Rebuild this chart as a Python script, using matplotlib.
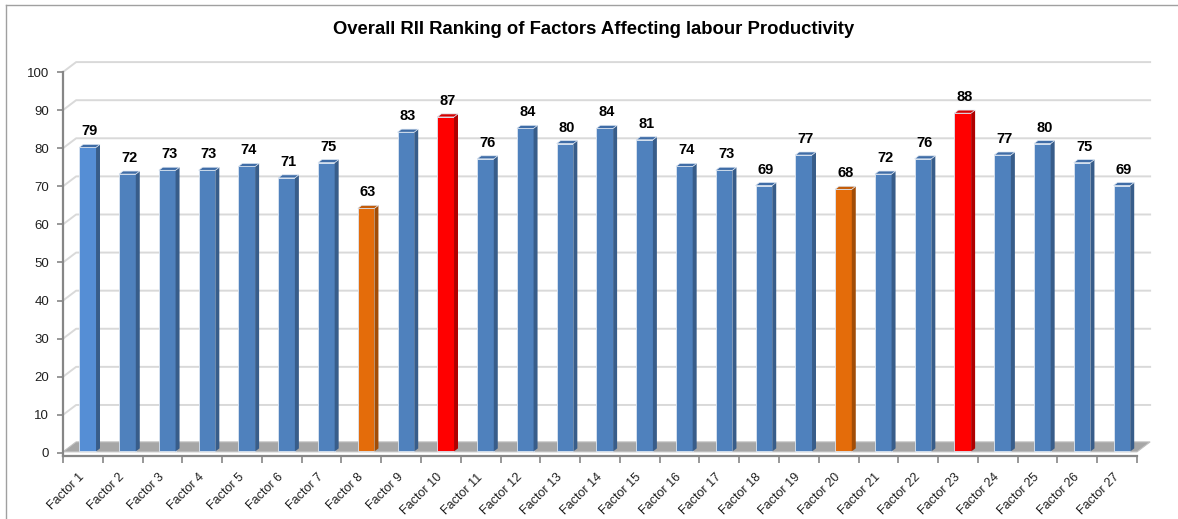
import numpy as np
import matplotlib
matplotlib.use('Agg')
import matplotlib.pyplot as plt
from matplotlib.patches import Polygon
from matplotlib.lines import Line2D

# chart data
factors = ['Factor %d' % i for i in range(1, 28)]
rii = [79, 72, 73, 73, 74, 71, 75, 63, 83, 87, 76, 84, 80, 84, 81,
       74, 73, 69, 77, 68, 72, 76, 88, 77, 80, 75, 69]
title = 'Overall RII Ranking of Factors Affecting labour Productivity'

# colour per bar: (front, side, top)
blue = ('#4F81BD', '#385D8A', '#3F6CA6')
blue_first = ('#558ED5', '#385D8A', '#3F6CA6')
orange = ('#E46C0A', '#A24D07', '#C45C08')
red = ('#FF0000', '#B00000', '#D40000')
colours = [blue] * 27
colours[0] = blue_first
colours[7] = orange
colours[19] = orange
colours[9] = red
colours[22] = red

matplotlib.rcParams['font.family'] = ['Liberation Sans', 'DejaVu Sans']

fig = plt.figure(figsize=(11.78, 5.19), dpi=100)
ax = fig.add_axes([63 / 1178, 63 / 519, 1074 / 1178, 384 / 519])
n = len(rii)
ax.set_xlim(-0.5, n - 0.5)
ax.set_ylim(-0.8, 100)

# fake 3d geometry (data units)
wdx, wdy = 0.33, 2.6     # back wall offset
bw = 0.42                # bar width
ox, oy = 0.12, 0.4       # bar front offset
lift = 1.2               # bars sit a little back in depth, tops look higher
sdx, sdy = 0.10, 0.8     # bar side depth
x = np.arange(n)

# back wall gridlines + side wall diagonals
for g in range(10, 101, 10):
    ax.plot([-0.5, -0.5 + wdx, n - 0.5 + wdx], [g, g + wdy, g + wdy],
            color='#D9D9D9', lw=1.4, zorder=1, clip_on=False)

# floor
floor = Polygon([(-0.5, 0.3), (n - 0.5, 0.3), (n - 0.5 + wdx, 0.3 + wdy),
                 (-0.5 + wdx, 0.3 + wdy)], closed=True, facecolor='#A6A6A6',
                edgecolor='#BFBFBF', lw=0.8, zorder=2, clip_on=False)
ax.add_patch(floor)

# bars
for i, v in enumerate(rii):
    front, side, top = colours[i]
    x0 = i + ox - bw / 2
    h = v + lift
    ax.bar(x0, h - oy, bottom=oy, width=bw, align='edge', color=front,
           edgecolor='#DCE6F2', linewidth=0.6, zorder=3)
    ax.add_patch(Polygon([(x0 + bw, oy), (x0 + bw + sdx, oy + sdy),
                          (x0 + bw + sdx, h + sdy), (x0 + bw, h)],
                         closed=True, facecolor=side, edgecolor='none', zorder=3))
    ax.add_patch(Polygon([(x0, h), (x0 + bw, h), (x0 + bw + sdx, h + sdy),
                          (x0 + sdx, h + sdy)],
                         closed=True, facecolor=top, edgecolor='#DCE6F2',
                         lw=0.5, zorder=3))
    ax.text(i + ox + sdx / 2, h + 4.2, str(v), ha='center', va='center',
            fontsize=10.5, fontweight='bold', color='black', zorder=4)

# axes styling
for s in ['top', 'right']:
    ax.spines[s].set_visible(False)
ax.spines['left'].set_color('#868686')
ax.spines['left'].set_linewidth(1.6)
ax.spines['bottom'].set_color('#868686')
ax.spines['bottom'].set_linewidth(1.6)
ax.set_yticks(range(0, 101, 10))
ax.tick_params(axis='y', length=4, width=1.2, color='#868686',
               labelsize=9.5, labelcolor='#202020', pad=6)
ax.set_xticks(np.arange(-0.5, n, 1))
ax.set_xticklabels([])
ax.tick_params(axis='x', which='major', length=5, width=1.2, color='#868686')
ax.set_xticks(x, minor=True)
ax.set_xticklabels(factors, minor=True, rotation=45, ha='right', va='center',
                   rotation_mode='anchor', fontsize=9, color='#202020')
ax.tick_params(axis='x', which='minor', length=0, pad=14)

fig.text(0.504, 1 - 30 / 519, title, ha='center', va='center',
         fontsize=13.3, fontweight='bold', color='black')

# chart border (left and top)
fig.add_artist(Line2D([6 / 1178, 6 / 1178], [0, 1 - 5 / 519],
                      color='#A0A0A0', lw=1, transform=fig.transFigure))
fig.add_artist(Line2D([6 / 1178, 1], [1 - 5 / 519, 1 - 5 / 519],
                      color='#A0A0A0', lw=1, transform=fig.transFigure))

fig.savefig('out.png', dpi=100)
